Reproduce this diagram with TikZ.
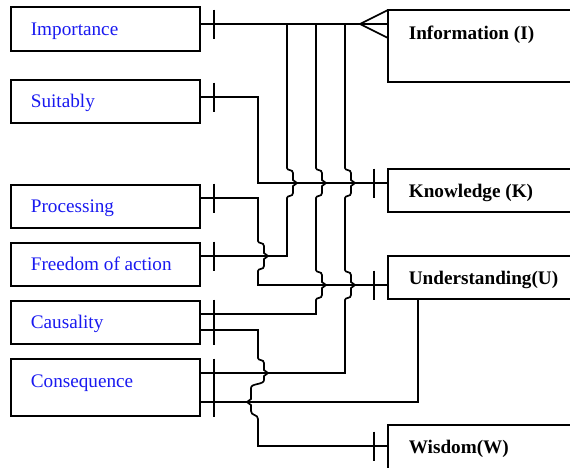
\documentclass[tikz,border=0pt]{standalone}
\usepackage{fontspec}
\setmainfont{Liberation Serif}
\usetikzlibrary{calc}
\definecolor{labelblue}{RGB}{25,25,240}

% line hop drawn as a small brace where a vertical wire crosses a horizontal one
% #1 = x of the vertical wire, #2 = y of the crossed wire, #3 = side (1 right, -1 left)
\newcommand{\hopdown}[3]{%
 -- (#1,#2-15) .. controls (#1,#2-12) and ({#1+6*(#3)},#2-14) .. ({#1+6*(#3)},#2-10)
 -- ({#1+6*(#3)},#2-3) -- ({#1+10*(#3)},#2) -- ({#1+6*(#3)},#2+3)
 -- ({#1+6*(#3)},#2+10) .. controls ({#1+6*(#3)},#2+14) and (#1,#2+12) .. (#1,#2+15)}
\newcommand{\hopup}[3]{%
 -- (#1,#2+15) .. controls (#1,#2+12) and ({#1+6*(#3)},#2+14) .. ({#1+6*(#3)},#2+10)
 -- ({#1+6*(#3)},#2+3) -- ({#1+10*(#3)},#2) -- ({#1+6*(#3)},#2-3)
 -- ({#1+6*(#3)},#2-10) .. controls ({#1+6*(#3)},#2-14) and (#1,#2-12) .. (#1,#2-15)}

\begin{document}
\begin{tikzpicture}[x=1pt,y=-1pt, line width=1.7pt,
  box/.style={draw, rectangle, anchor=north west, outer sep=0pt, inner sep=0pt},
  leftbox/.style={box, minimum width=189pt},
  rightbox/.style={box, minimum width=200pt},
  lbl/.style={anchor=base west, inner sep=0pt, text=labelblue,
              font=\fontsize{19.2}{23}\selectfont},
  blbl/.style={anchor=base west, inner sep=0pt,
               font=\fontsize{19.2}{23}\selectfont\bfseries},
  wire/.style={line join=miter}]
\useasboundingbox (0,0) rectangle (570,467);
\clip (0,0) rectangle (570,467);

% attribute boxes
\node[leftbox, minimum height=44pt] (imp)  at (11,7)   {};
\node[leftbox, minimum height=43pt] (suit) at (11,80)  {};
\node[leftbox, minimum height=43pt] (proc) at (11,185) {};
\node[leftbox, minimum height=43pt] (free) at (11,243) {};
\node[leftbox, minimum height=43pt] (caus) at (11,301) {};
\node[leftbox, minimum height=57pt] (cons) at (11,359) {};

\node[lbl] (impT)  at ($(imp.north west)+(19,28)$)  {Importance};
\node[lbl] (suitT) at ($(suit.north west)+(19,27)$) {Suitably};
\node[lbl] (procT) at ($(proc.north west)+(19,27)$) {Processing};
\node[lbl] (freeT) at ($(free.north west)+(19,27)$) {Freedom of action};
\node[lbl] (causT) at ($(caus.north west)+(19,27)$) {Causality};
\node[lbl] (consT) at ($(cons.north west)+(19,28)$) {Consequence};

% hierarchy boxes
\node[rightbox, minimum height=72pt] (info) at (388,10)  {};
\node[rightbox, minimum height=43pt] (know) at (388,169) {};
\node[rightbox, minimum height=43pt] (und)  at (388,256) {};
\node[rightbox, minimum height=60pt] (wis)  at (388,425) {};

\node[blbl] (infoT) at ($(info.north west)+(20,29)$) {Information (I)};
\node[blbl] (knowT) at ($(know.north west)+(20,28)$) {Knowledge (K)};
\node[blbl] (undT)  at ($(und.north west)+(20,28)$)  {Understanding(U)};
\node[blbl] (wisT)  at ($(wis.north west)+(20,28)$)  {Wisdom(W)};

% wire levels
\coordinate (yI)  at (0,24);
\coordinate (yS)  at (0,97);
\coordinate (yK)  at (0,183);
\coordinate (yP)  at (0,198);
\coordinate (yF)  at (0,256);
\coordinate (yU)  at (0,285);
\coordinate (yC1) at (0,314);
\coordinate (yC2) at (0,330);
\coordinate (yQ1) at (0,373);
\coordinate (yQ2) at (0,402);
\coordinate (yW)  at (0,446);
\coordinate (xU)  at (418,0);
\coordinate (crow) at (360,24);

% Importance -> Information, with crow's foot
\draw[wire] (imp.east |- yI) -- (info.west |- yI);
\draw[wire] (info.north west) -- (crow) -- ($(info.north west)+(0,28)$);

% Suitably -> Knowledge
\draw[wire] (suit.east |- yS) -- (258,97) -- (258,183) -- (know.west |- yK);

% Processing -> Understanding
\draw[wire] (proc.east |- yP) -- (258,198) \hopdown{258}{256}{1} -- (258,285)
  -- (und.west |- yU);

% Freedom of action -> Information
\draw[wire] (free.east |- yF) -- (287,256) \hopup{287}{183}{1} -- (287,24)
  -- (info.west |- yI);

% Causality -> Information
\draw[wire] (caus.east |- yC1) -- (316,314) \hopup{316}{285}{1} \hopup{316}{183}{1}
  -- (316,24) -- (info.west |- yI);

% Consequence -> Information
\draw[wire] (cons.east |- yQ1) -- (345,373) \hopup{345}{285}{1} \hopup{345}{183}{1}
  -- (345,24) -- (info.west |- yI);

% Causality -> Wisdom
\draw[wire] (caus.east |- yC2) -- (258,330) -- (258,358)
  .. controls (258,361) and (264,359) .. (264,363) -- (264,370) -- (268,373)
  -- (264,376) -- (264,380) .. controls (264,385) and (251,383) .. (251,388)
  -- (251,399) -- (247,402) -- (251,405) -- (251,411)
  .. controls (251,416) and (258,414) .. (258,419) -- (258,446) -- (wis.west |- yW);

% Consequence -> Understanding
\draw[wire] (cons.east |- yQ2) -- (xU |- yQ2) -- (xU |- und.south);

% cardinality ticks
\foreach \y in {24,97,198,256,314,330,373,402}
  \draw (214,\y-14.5) -- (214,\y+14.5);
\foreach \y in {183,285,446}
  \draw (374,\y-14.5) -- (374,\y+14.5);
\end{tikzpicture}
\end{document}
